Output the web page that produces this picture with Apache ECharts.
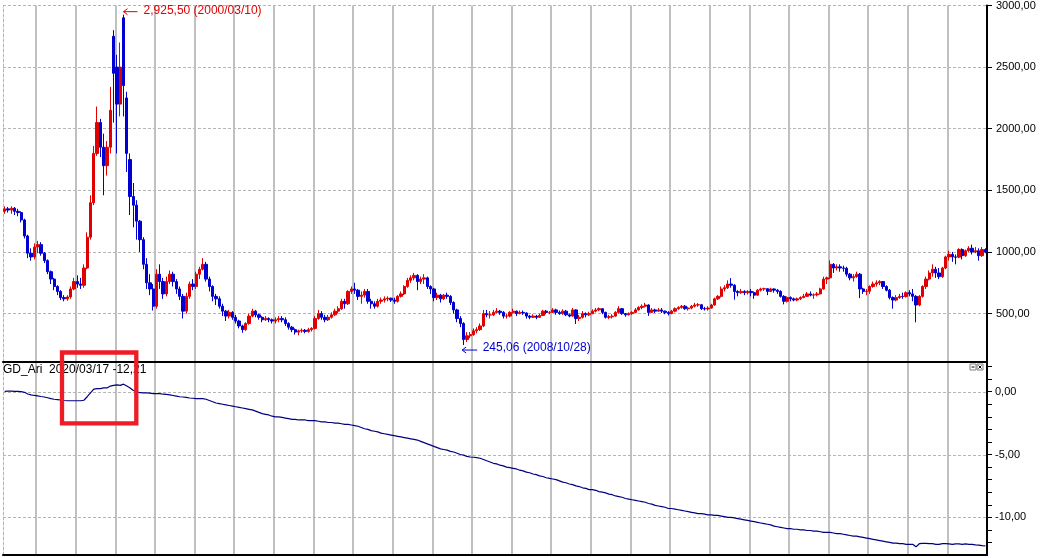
<!DOCTYPE html>
<html>
<head>
<meta charset="utf-8">
<script src="https://cdn.jsdelivr.net/npm/echarts@6/dist/echarts.min.js"></script>
<style>
html,body{margin:0;padding:0;background:#fff;}
#c{width:1040px;height:558px;}
</style>
</head>
<body>
<div id="c"></div>
<script>
// ---- categories: monthly, 1997-03 .. 2021-12 ----
const firstYear = 1997, firstMonth = 3, lastYear = 2021, lastMonth = 12;
const months = [];
for (let y = firstYear, m = firstMonth; y < lastYear || (y === lastYear && m <= lastMonth);) {
  months.push(y + '-' + String(m).padStart(2, '0'));
  m++; if (m > 12) { m = 1; y++; }
}

// ---- price candles [open, close, low, high] per month ----
const p1997 = [[1330,1350,1310,1370],[1350,1340,1320,1365],[1340,1355,1310,1370],[1355,1330,1300,1365],[1330,1320,1290,1350],[1320,1260,1240,1330],[1260,1130,1110,1270],[1130,990,950,1140],[990,960,930,1030],[960,1040,940,1070]];
const p1998 = [[1040,1060,990,1090],[1060,990,970,1080],[990,930,910,1000],[930,840,820,940],[840,780,740,850],[780,720,690,790],[720,680,650,730],[680,630,610,690],[630,620,600,650],[620,635,605,650],[635,700,620,720],[700,760,690,790]];
const p1999 = [[760,740,710,810],[740,730,700,790],[730,870,710,900],[870,1120,860,1160],[1120,1400,1100,1460],[1400,1800,1380,1860],[1800,2050,1780,2180],[2050,1850,1770,2080],[1850,1700,1460,1960],[1700,1850,1620,1900],[1850,2150,1800,2340],[2750,2450,2050,2800]];
const p2000 = [[2500,2200,1800,2600],[2200,2500,2100,2700],[2900,2350,2100,2925.5],[2250,1800,1650,2300],[1750,1450,1300,1800],[1450,1380,1200,1560],[1380,1250,1100,1420],[1250,1100,1000,1260],[1100,900,860,1120],[900,750,700,950],[750,700,650,820],[700,560,525,740]];
const p2001 = [[560,820,540,860],[820,760,700,900],[760,660,620,790],[660,760,640,800],[760,820,740,850],[820,760,720,840],[760,700,660,780],[700,640,610,720],[640,520,460,660],[520,640,500,670],[640,740,620,760],[740,720,690,780]];
const p2002 = [[720,820,700,840],[820,860,780,880],[860,900,850,950],[900,780,760,920],[780,720,680,800],[720,640,600,730],[640,620,570,660],[620,560,540,640],[560,520,480,580],[520,480,440,530],[480,510,460,530],[510,470,450,520]];
const p2003 = [[470,440,420,490],[440,400,380,450],[400,370,345,410],[370,420,360,430],[420,480,410,500],[480,520,470,540],[520,490,470,530],[490,470,450,500],[470,450,430,480],[450,460,440,480],[460,450,430,470],[450,440,420,460]];
const p2004 = [[440,450,420,470],[450,460,430,480],[460,450,430,480],[450,420,400,470],[420,390,370,430],[390,370,350,400],[370,350,330,380],[350,360,324,370],[360,365,345,380],[365,355,340,375],[355,370,345,385],[370,380,355,390]];
const p2005 = [[380,460,370,480],[460,500,450,530],[500,470,450,520],[470,450,430,490],[450,470,440,490],[470,490,460,510],[490,520,480,540],[520,540,500,560],[540,600,530,620],[600,580,540,620],[580,680,570,690],[680,700,660,720]];
const p2006 = [[700,690,660,750],[690,640,610,700],[640,650,580,680],[650,680,630,700],[680,600,580,700],[600,580,540,620],[580,560,540,600],[560,600,550,620],[600,610,580,630],[610,620,590,640],[620,625,600,640],[625,610,595,630]];
const p2007 = [[610,600,580,630],[600,640,590,650],[640,660,630,680],[660,720,650,730],[720,770,710,790],[770,790,750,810],[790,810,770,830],[810,760,690,820],[760,780,740,800],[780,790,740,820],[790,720,700,800],[720,700,660,730]];
const p2008 = [[700,630,600,710],[630,650,610,670],[650,620,590,660],[620,650,610,660],[650,640,620,670],[640,590,570,650],[590,530,500,600],[530,460,430,540],[460,420,390,480],[420,290,245.06,430],[290,320,270,350],[320,330,300,350]];
const p2009 = [[330,360,320,380],[360,370,340,390],[370,400,360,420],[400,500,390,530],[500,490,470,530],[490,490,460,520],[490,510,480,530],[510,520,500,545],[520,510,490,530],[510,480,460,520],[480,480,460,500],[480,510,470,520]];
const p2010 = [[510,520,500,540],[520,500,480,525],[500,510,495,525],[510,505,490,525],[505,480,460,510],[480,470,455,490],[470,480,465,495],[480,470,455,490],[470,485,465,500],[485,520,480,530],[520,510,495,530],[510,510,495,520]];
const p2011 = [[510,530,505,545],[530,510,490,540],[510,500,490,525],[500,520,490,535],[520,490,480,530],[490,480,470,500],[480,530,475,545],[530,460,416,535],[460,470,440,490],[470,500,460,520],[500,490,470,510],[490,500,480,515]];
const p2012 = [[500,520,495,535],[520,530,510,545],[530,540,520,550],[540,510,495,545],[510,470,460,515],[470,475,455,490],[475,480,460,495],[480,510,475,520],[510,540,500,560],[540,500,490,545],[500,490,475,505],[490,500,485,510]];
const p2013 = [[500,510,490,520],[510,530,505,545],[530,550,525,560],[550,560,535,575],[560,570,550,587],[570,510,482,575],[510,530,505,545],[530,520,505,540],[520,530,515,545],[530,520,505,545],[520,510,495,525],[510,500,485,520]];
const p2014 = [[500,520,495,530],[520,540,510,550],[540,550,530,560],[550,560,540,570],[560,540,530,570],[540,545,525,555],[545,560,535,570],[560,570,550,587],[570,572,555,585],[572,540,530,575],[540,538,525,555],[538,545,525,560]];
const p2015 = [[545,570,540,580],[570,620,565,630],[620,640,610,650],[640,700,630,720],[700,710,680,730],[710,740,700,770],[740,730,710,788],[730,680,613,740],[680,670,640,690],[670,680,660,700],[680,670,650,690],[670,680,655,690]];
const p2016 = [[680,670,640,700],[670,650,620,680],[650,690,645,700],[690,700,680,710],[700,702,685,710],[702,680,650,705],[680,700,675,710],[700,690,670,705],[690,680,660,700],[680,640,630,690],[640,600,575,650],[600,630,590,640]];
const p2017 = [[630,620,600,640],[620,610,600,630],[610,620,600,630],[620,630,610,640],[630,640,625,660],[640,660,635,675],[660,650,640,680],[650,652,620,665],[652,660,640,675],[660,700,655,710],[700,780,695,800],[780,790,740,800]];
const p2018 = [[790,900,780,932],[900,870,830,910],[870,880,850,900],[880,870,840,900],[870,868,840,890],[868,820,800,880],[820,790,770,830],[790,800,760,820],[800,820,790,840],[820,700,626,830],[700,680,660,710],[680,682,650,700]];
const p2019 = [[682,720,660,730],[720,740,710,760],[740,750,720,770],[750,760,730,771],[760,720,700,760],[720,690,680,730],[690,630,615,700],[630,610,540,640],[610,630,600,650],[630,640,620,660],[640,638,620,670],[638,670,630,680]];
const p2020 = [[670,660,640,690],[660,640,600,700],[640,570,429,650],[570,640,560,650],[640,720,630,730],[720,780,700,800],[780,830,770,850],[830,860,800,900],[860,830,790,880],[830,800,780,870],[800,870,790,880],[870,960,860,970]];
const p2021 = [[960,980,930,1010],[980,960,920,1000],[960,958,900,980],[958,1020,950,1030],[1020,970,940,1030],[970,1010,960,1020],[1010,1030,1000,1047],[1030,1000,980,1060],[1000,1010,990,1040],[1010,970,930,1030],[970,1020,960,1040],[1020,1000,990,1030]];
const ohlc = [].concat(p1997,p1998,p1999,p2000,p2001,p2002,p2003,p2004,p2005,p2006,p2007,p2008,p2009,p2010,p2011,p2012,p2013,p2014,p2015,p2016,p2017,p2018,p2019,p2020,p2021);

// ---- GD_Ari indicator, one value per month ----
const gdAri = [
  0.03,0.04,0.04,0.03,0.02,0.01,-0.05,-0.18,-0.25,-0.3,
  -0.33,-0.38,-0.42,-0.48,-0.55,-0.6,-0.63,-0.66,-0.7,-0.72,-0.72,-0.72,
  -0.72,-0.72,-0.68,-0.4,-0.1,0.2,0.25,0.25,0.3,0.3,0.45,0.5,
  0.55,0.5,0.6,0.45,0.3,0.1,0.0,-0.08,-0.1,-0.1,-0.12,-0.15,
  -0.15,-0.15,-0.2,-0.22,-0.25,-0.3,-0.35,-0.4,-0.42,-0.45,-0.5,-0.52,
  -0.55,-0.55,-0.55,-0.6,-0.7,-0.8,-0.9,-0.95,-1.0,-1.05,-1.1,-1.15,
  -1.2,-1.25,-1.3,-1.35,-1.4,-1.45,-1.55,-1.65,-1.75,-1.8,-1.85,-1.95,
  -2.0,-2.0,-2.05,-2.1,-2.15,-2.2,-2.2,-2.25,-2.25,-2.25,-2.3,-2.3,
  -2.3,-2.35,-2.4,-2.4,-2.45,-2.45,-2.5,-2.5,-2.55,-2.6,-2.6,-2.65,
  -2.7,-2.75,-2.85,-2.95,-3.0,-3.1,-3.15,-3.2,-3.3,-3.35,-3.4,-3.45,
  -3.5,-3.55,-3.6,-3.65,-3.7,-3.75,-3.8,-3.85,-3.95,-4.05,-4.15,-4.25,
  -4.35,-4.45,-4.55,-4.6,-4.65,-4.75,-4.8,-4.9,-5.0,-5.05,-5.15,-5.2,
  -5.22,-5.25,-5.3,-5.4,-5.5,-5.6,-5.7,-5.75,-5.85,-5.9,-6.0,-6.05,
  -6.1,-6.15,-6.25,-6.3,-6.4,-6.45,-6.55,-6.6,-6.7,-6.75,-6.85,-6.9,
  -6.95,-7.0,-7.1,-7.2,-7.25,-7.35,-7.4,-7.5,-7.55,-7.65,-7.7,-7.8,
  -7.8,-7.85,-7.95,-8.0,-8.05,-8.15,-8.2,-8.3,-8.35,-8.4,-8.5,-8.55,
  -8.6,-8.65,-8.7,-8.75,-8.8,-8.9,-8.95,-9.05,-9.1,-9.15,-9.2,-9.3,
  -9.3,-9.35,-9.4,-9.45,-9.5,-9.55,-9.6,-9.65,-9.7,-9.7,-9.75,-9.8,
  -9.8,-9.85,-9.85,-9.9,-9.95,-10.0,-10.0,-10.05,-10.1,-10.15,-10.2,-10.25,
  -10.3,-10.35,-10.4,-10.45,-10.5,-10.55,-10.6,-10.7,-10.75,-10.8,-10.85,-10.9,
  -10.9,-10.95,-10.95,-11.0,-11.0,-11.05,-11.05,-11.1,-11.1,-11.15,-11.2,-11.2,
  -11.2,-11.25,-11.3,-11.3,-11.35,-11.4,-11.45,-11.5,-11.5,-11.55,-11.6,-11.65,
  -11.7,-11.75,-11.8,-11.85,-11.9,-11.95,-12.0,-12.05,-12.05,-12.1,-12.1,-12.15,
  -12.15,-12.15,-12.35,-12.1,-12.08,-12.08,-12.1,-12.1,-12.15,-12.15,-12.1,-12.1,
  -12.12,-12.15,-12.12,-12.12,-12.15,-12.12,-12.15,-12.15,-12.2,-12.22,-12.25,-12.27
];

// ---- tick labels / annotations ----
const priceTicks = [500, 1000, 1500, 2000, 2500, 3000];
const gdTicks = [0, -5, -10];
const gdMinorTicks = [2, 1, 0, -1, -2, -3, -4, -5, -6, -7, -8, -9, -10, -11, -12];
const peakPoint = { month: '2000-03', value: 2925.5, date: '2000/03/10' };
const lowPoint = { month: '2008-10', value: 245.06, date: '2008/10/28' };
const gdName = 'GD_Ari';
const gdCursorDate = '2020/03/17';
const gdCursorValue = -12.21;

const RED = '#e00000', BLUE = '#0000d0', NAVY = '#000080';
const FONT = '"Liberation Sans", Arial, sans-serif';
const fmt = v => v.toFixed(2).replace('.', ',');
const fmtThousands = v => {
  const s = v.toFixed(2).replace('.', ',');
  const [ip, dp] = s.split(',');
  return ip.replace(/\B(?=(\d{3})+(?!\d))/g, ',') + ',' + dp;
};

const chart = echarts.init(document.getElementById('c'));
const vSplit = () => ({ show: true, interval: (i, v) => /-01$/.test(v), lineStyle: { color: '#c0c0c0', width: 2, type: 'solid' } });
const dash = () => ({ color: '#b4b4b4', width: 1, type: [3, 2] });
const GD_MIN = -13, GD_MAX = 2.285;

chart.setOption({
  animation: false,
  backgroundColor: '#ffffff',
  grid: [
    { left: 3, right: 53, top: 1, height: 361 },
    { left: 3, right: 53, top: 363, height: 192 }
  ],
  xAxis: [
    { gridIndex: 0, type: 'category', data: months, boundaryGap: true,
      axisLine: { show: true, onZero: false, lineStyle: { color: '#000', width: 2 } },
      axisTick: { show: false }, axisLabel: { show: false }, splitLine: vSplit() },
    { gridIndex: 1, type: 'category', data: months, boundaryGap: true,
      axisLine: { show: true, onZero: false, lineStyle: { color: '#000', width: 2 } },
      axisTick: { show: false }, axisLabel: { show: false }, splitLine: vSplit() }
  ],
  yAxis: [
    { gridIndex: 0, type: 'value', position: 'right', min: 107.4, max: 3000,
      axisLine: { show: true, onZero: false, lineStyle: { color: '#000', width: 2 } },
      axisTick: { show: true, length: 5, customValues: priceTicks, lineStyle: { color: '#000' } },
      axisLabel: { show: true, customValues: priceTicks, formatter: fmt, margin: 9, color: '#000', fontSize: 11, fontFamily: FONT, verticalAlign: 'middle' },
      splitLine: { show: true, lineStyle: dash() } },
    { gridIndex: 0, type: 'value', position: 'left', axisLine: { show: true, onZero: false, lineStyle: dash() },
      axisTick: { show: false }, axisLabel: { show: false }, splitLine: { show: false } },
    { gridIndex: 1, type: 'value', position: 'right', min: GD_MIN, max: GD_MAX,
      axisLine: { show: true, onZero: false, lineStyle: { color: '#000', width: 2 } },
      axisTick: { show: true, length: 5, customValues: gdMinorTicks, lineStyle: { color: '#000' } },
      axisLabel: { show: true, customValues: gdTicks, formatter: fmt, margin: 8, color: '#000', fontSize: 11, fontFamily: FONT },
      splitLine: { show: false } },
    { gridIndex: 1, type: 'value', position: 'left', axisLine: { show: true, onZero: false, lineStyle: dash() },
      axisTick: { show: false }, axisLabel: { show: false }, splitLine: { show: false } }
  ],
  series: [
    { type: 'candlestick', name: 'KOSDAQ', xAxisIndex: 0, yAxisIndex: 0, data: ohlc, barWidth: '85%',
      itemStyle: { color: RED, color0: BLUE, borderColor: RED, borderColor0: BLUE, borderWidth: 1 } },
    { type: 'line', name: gdName, xAxisIndex: 1, yAxisIndex: 2, data: gdAri, symbol: 'none',
      lineStyle: { color: NAVY, width: 1.2 } }
  ]
});

// ---- overlays placed through the library's coordinate conversion ----
const graphics = [];
// dashed horizontal gridlines of the indicator panel at the labelled ticks
const gridRect = chart.getModel().getComponent('grid', 1).coordinateSystem.getRect();
gdTicks.forEach(v => {
  const y = Math.round(chart.convertToPixel({ yAxisIndex: 2 }, v)) + 0.5;
  graphics.push({ type: 'line', silent: true, z: 1,
    shape: { x1: gridRect.x, y1: y, x2: gridRect.x + gridRect.width, y2: y },
    style: { stroke: '#b4b4b4', lineWidth: 1, lineDash: [3, 2] } });
});

const pk = chart.convertToPixel({ seriesIndex: 0 }, [peakPoint.month, peakPoint.value]);
const lw = chart.convertToPixel({ seriesIndex: 0 }, [lowPoint.month, lowPoint.value]);
function arrow(tipX, y, len, color) {
  return [
    { type: 'line', shape: { x1: tipX, y1: y, x2: tipX + len, y2: y }, style: { stroke: color, lineWidth: 1 }, z: 50 },
    { type: 'polyline', shape: { points: [[tipX + 4, y - 3], [tipX, y], [tipX + 4, y + 3]] }, style: { stroke: color, lineWidth: 1, fill: null }, z: 50 }
  ];
}
graphics.push(...arrow(pk[0], pk[1] - 3, 14, RED));
graphics.push({ type: 'text', x: pk[0] + 20, y: pk[1] - 4, z: 50,
  style: { text: fmtThousands(peakPoint.value) + ' (' + peakPoint.date + ')', fill: RED, font: '12px ' + FONT, textVerticalAlign: 'middle', verticalAlign: 'middle' } });
graphics.push(...arrow(lw[0] - 1.5, lw[1] + 5, 15, BLUE));
graphics.push({ type: 'text', x: lw[0] + 19, y: lw[1] + 3, z: 50,
  style: { text: fmt(lowPoint.value) + ' (' + lowPoint.date + ')', fill: BLUE, font: '12px ' + FONT, textVerticalAlign: 'middle', verticalAlign: 'middle' } });
// indicator title
graphics.push({ type: 'text', x: 3, y: 370, z: 50,
  style: { text: gdName + '  ' + gdCursorDate + ' ' + fmt(gdCursorValue), fill: '#000', font: '12px ' + FONT, verticalAlign: 'middle', textVerticalAlign: 'middle' } });
// panel buttons
graphics.push({ type: 'rect', shape: { x: 970, y: 364, width: 6, height: 6 }, style: { fill: '#fff', stroke: '#808080', lineWidth: 1 }, z: 50 });
graphics.push({ type: 'line', shape: { x1: 971.5, y1: 367, x2: 974.5, y2: 367 }, style: { stroke: '#000', lineWidth: 1 }, z: 51 });
graphics.push({ type: 'rect', shape: { x: 977, y: 364, width: 6, height: 6 }, style: { fill: '#fff', stroke: '#808080', lineWidth: 1 }, z: 50 });
graphics.push({ type: 'line', shape: { x1: 978.5, y1: 365.5, x2: 981.5, y2: 368.5 }, style: { stroke: '#000', lineWidth: 1 }, z: 51 });
graphics.push({ type: 'line', shape: { x1: 981.5, y1: 365.5, x2: 978.5, y2: 368.5 }, style: { stroke: '#000', lineWidth: 1 }, z: 51 });
// red highlight box drawn over the chart
graphics.push({ type: 'rect', shape: { x: 62, y: 352.5, width: 74.3, height: 70.8 }, style: { fill: null, stroke: '#ee1c24', lineWidth: 4.3 }, z: 100 });
chart.setOption({ graphic: graphics });
</script>
</body>
</html>
